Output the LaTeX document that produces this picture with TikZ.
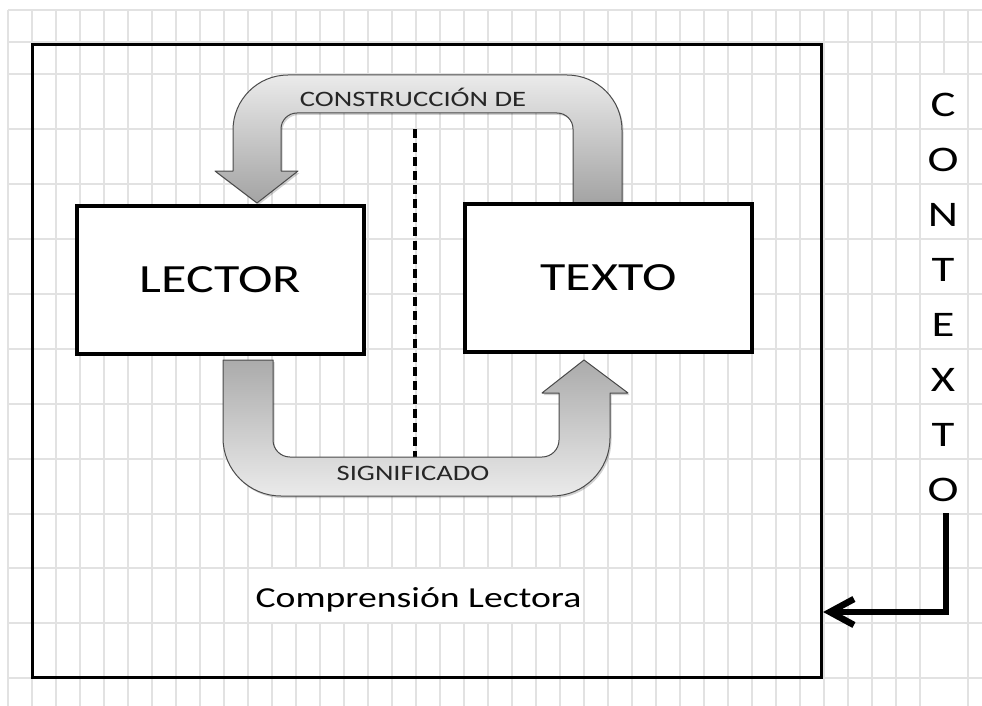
\documentclass[tikz,border=0pt]{standalone}
\usepackage{fontspec}
\setmainfont{Carlito}[FakeStretch=1.3]
\usetikzlibrary{arrows.meta}
\definecolor{gridc}{HTML}{E2E2E2}
\definecolor{arrowline}{HTML}{4A4A4A}
\newcommand\TopArrowPath{(622,203) -- (622,130) arc[start angle=0, end angle=-90, radius=55]
  -- (288,75) arc[start angle=-90, end angle=-180, radius=55]
  -- (233,171) -- (215,171) -- (257,203) -- (298,171) -- (281,171)
  -- (281,129) arc[start angle=180, end angle=270, radius=16]
  -- (557,113) arc[start angle=270, end angle=360, radius=16]
  -- (573,203) -- cycle}
\newcommand\BotArrowPath{(223,360) -- (223,438) arc[start angle=180, end angle=90, radius=58]
  -- (552,496) arc[start angle=90, end angle=0, radius=58]
  -- (610,393) -- (628,393) -- (584,360) -- (542,393) -- (559,393)
  -- (559,440) arc[start angle=0, end angle=90, radius=17]
  -- (290,457) arc[start angle=90, end angle=180, radius=17]
  -- (273,360) -- cycle}
\begin{document}
\begin{tikzpicture}[x=1pt,y=-1pt,
  gridline/.style={gridc, line width=1.4pt},
  framebox/.style={draw=black, line width=3.2pt, minimum width=789pt, minimum height=633pt, inner sep=0pt},
  boxnode/.style={draw=black, line width=4pt, fill=white, minimum width=287pt, minimum height=148pt, inner sep=0pt, font=\fontsize{40}{48}\selectfont},
  bigarrow/.style={draw=arrowline, line width=1pt, line join=round},
  arrowshadow/.style={fill=black, opacity=0.18},
  arrowlabel/.style={text=black!85, inner sep=0pt, font=\fontsize{22}{26}\selectfont},
  ctxletter/.style={anchor=base, inner sep=0pt, font=\fontsize{36}{40}\selectfont},
  ctxarrow/.style={line width=6.5pt, line join=miter, -{Straight Barb[length=24pt,width=26pt]}},
  divider/.style={line width=3.2pt, dash pattern=on 9pt off 5pt}
]
\useasboundingbox (0,0) rectangle (982,706);
\fill[white] (0,0) rectangle (982,706);
% grid
\foreach \k in {0,1,...,10} \draw[gridline] ({8+24*\k},10) -- ({8+24*\k},706);
\foreach \k in {24,25,...,38} \draw[gridline] ({8+24*\k},10) -- ({8+24*\k},706);
\draw[gridline] (968,10) -- (968,706);
\foreach \k in {11,12,...,23} {
  \draw[gridline] ({8+24*\k},10) -- ({8+24*\k},568);
  \draw[gridline] ({8+24*\k},623) -- ({8+24*\k},706);
}
\draw[gridline] (944,10) -- (944,74);
\foreach \yy in {10,42,74,129,184,239,294,349,404,459,514,568,623,678}
  \draw[gridline] (8,\yy) -- (982,\yy);
% outer frame
\node[framebox] (frame) at (427,361) {};
% divider
\coordinate (dtop) at (415,129);
\coordinate (dbot) at (415,457);
\draw[divider] (dtop) -- (dbot);
% big arrows
\fill[arrowshadow, xshift=1.5pt, yshift=-2pt] \TopArrowPath;
\shade[top color=black!8, bottom color=black!36] \TopArrowPath;
\draw[bigarrow] \TopArrowPath;
\fill[arrowshadow, xshift=1.5pt, yshift=-2pt] \BotArrowPath;
\shade[top color=black!33, bottom color=black!8] \BotArrowPath;
\draw[bigarrow] \BotArrowPath;
% boxes
\node[boxnode] (lector) at (220.5,279.5) {LECTOR};
\node[boxnode] (texto) at (608.5,278) {TEXTO};
% labels
\node[arrowlabel] (lblc) at (413,97) {CONSTRUCCIÓN DE};
\node[arrowlabel] (lbls) at (413,473) {SIGNIFICADO};
\node[anchor=base, inner sep=0pt, font=\fontsize{29}{34}\selectfont] (comp) at (418.5,607) {Comprensión Lectora};
% CONTEXTO
\foreach \ch [count=\i from 0] in {C,O,N,T,E,X,T,O}
  \node[ctxletter] (c\i) at (943,{117+54.9*\i}) {\ch};
\coordinate (ctxstart) at (946,513);
\coordinate (yref) at (0,612);
\draw[ctxarrow] (ctxstart) |- (frame.east |- yref);
\end{tikzpicture}
\end{document}
